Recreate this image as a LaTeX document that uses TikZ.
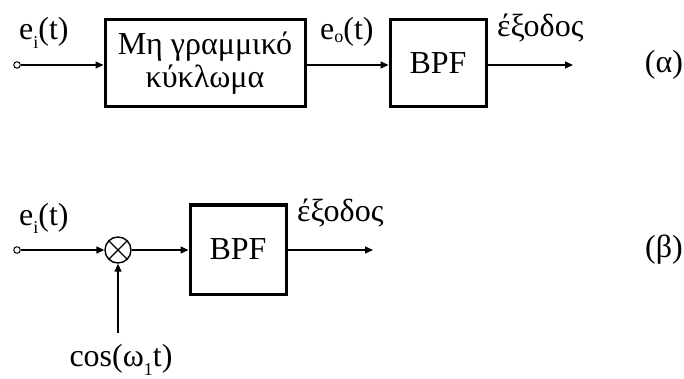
\documentclass[tikz,border=0pt]{standalone}
\usepackage{fontspec}
\setmainfont{Liberation Serif}
\usetikzlibrary{arrows.meta}
\tikzset{
  blk/.style={draw, line width=3pt, minimum width=#1, inner sep=0pt},
  sig/.style={line width=1.4pt, -{Triangle[length=8pt,width=7pt]}},
  lbl/.style={font=\fontsize{32}{34}\selectfont, inner sep=0pt, anchor=base},
  term/.style={circle, draw, line width=1pt, minimum size=6.5pt, inner sep=0pt}
}
\newcommand{\sbs}[2][9pt]{\lower#1\hbox{\fontsize{18}{18}\selectfont #2}}
\begin{document}
\begin{tikzpicture}[x=1pt,y=-1pt]
\useasboundingbox (0,0) rectangle (684,379);
% (alpha)
\node[term] (in1) at (17,65) {};
\node[blk=200pt, minimum height=87pt, font=\fontsize{32}{33}\selectfont, align=center] (nl) at (205,63.5) {Μη γραμμικό\\κύκλωμα};
\node[blk=96pt, minimum height=87pt, font=\fontsize{32}{34}\selectfont] (bpf1) at (438,63.5) {BPF};
\coordinate (out1) at (573,65);
\draw[sig] (in1) -- (nl.west |- in1);
\draw[sig] (nl.east |- in1) -- (bpf1.west |- in1);
\draw[sig] (bpf1.east |- in1) -- (out1);
\node[lbl, anchor=base west] (ei1) at (19,40) {e\sbs{i}(t)};
\node[lbl, anchor=base west] (eo) at (320,40) {e\sbs[3pt]{o}(t)};
\node[lbl, anchor=base west] (ex1) at (497,37) {έξοδος};
\node[lbl, anchor=center] (la) at (664,65) {(α)};
% (beta)
\node[term] (in2) at (17,250) {};
\node[circle, draw, line width=1.4pt, minimum size=26pt, inner sep=0pt] (mx) at (118,250) {};
\draw[line width=1.1pt] (mx.north east) -- (mx.south west) (mx.north west) -- (mx.south east);
\node[blk=96pt, minimum height=89pt, font=\fontsize{32}{34}\selectfont] (bpf2) at (238,249.5) {BPF};
\coordinate (out2) at (373,250);
\coordinate (lo) at (118,333);
\draw[sig] (in2) -- (mx);
\draw[sig] (mx) -- (bpf2.west |- mx);
\draw[sig] (bpf2.east |- mx) -- (out2);
\draw[sig] (lo) -- (mx);
\node[lbl, anchor=base west] (ei2) at (19,225) {e\sbs{i}(t)};
\node[lbl, anchor=base west] (ex2) at (297,222) {έξοδος};
\node[lbl, anchor=center] (lb) at (664,250) {(β)};
\node[lbl] (cs) at (121,366) {cos(ω\sbs{1}t)};
\end{tikzpicture}
\end{document}
